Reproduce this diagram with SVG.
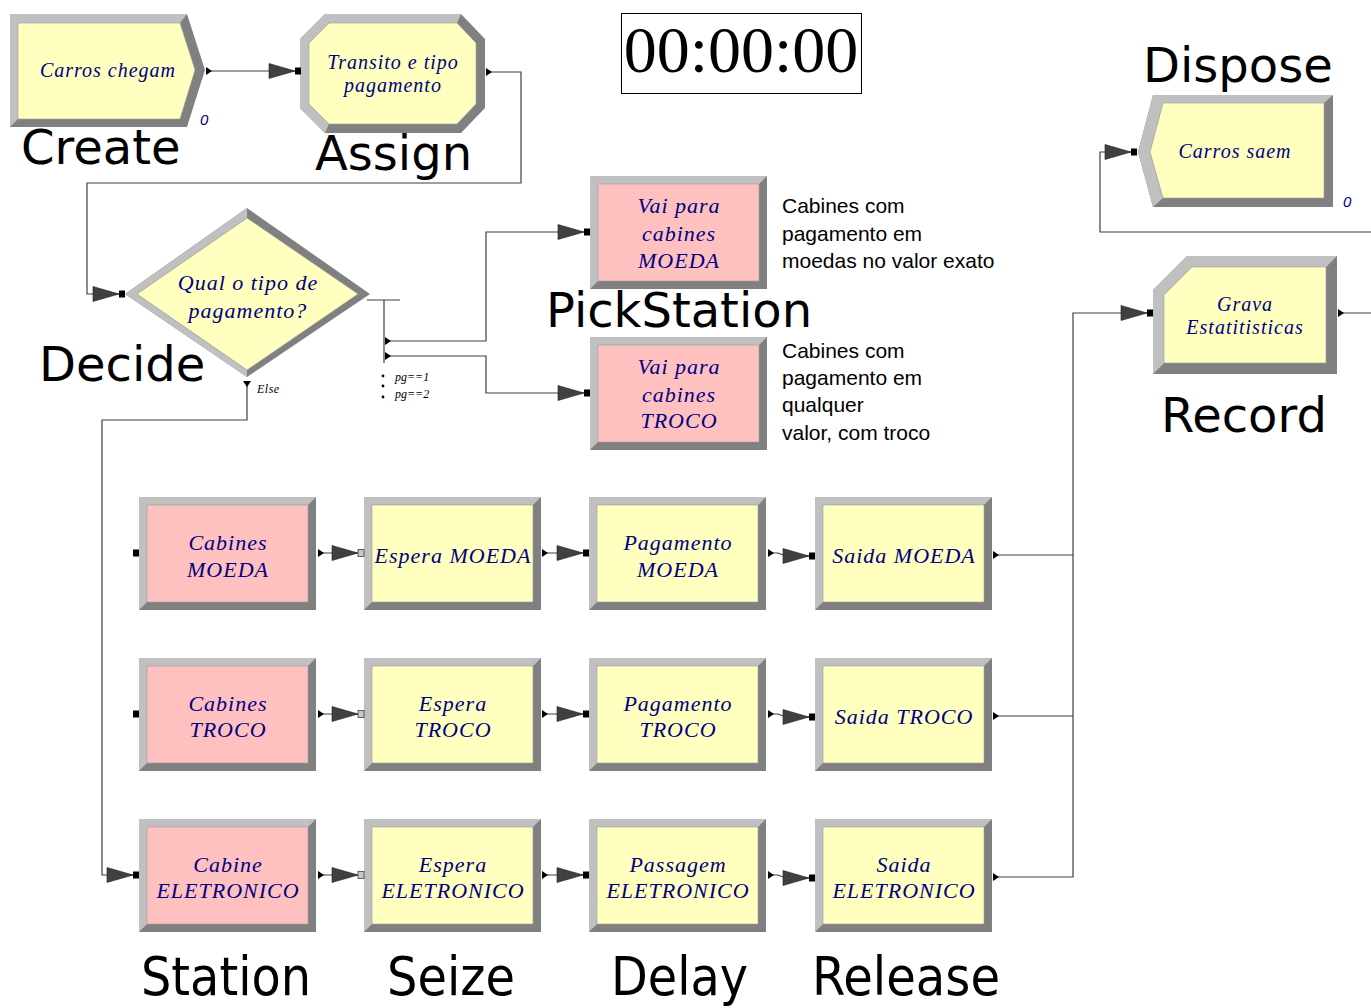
<svg xmlns="http://www.w3.org/2000/svg" xmlns:xlink="http://www.w3.org/1999/xlink" width="1371" height="1008" viewBox="0 0 1371 1008">
<style>
.dk{fill:#808080}
.lt{fill:#c0c0c0}
.yl{fill:#ffffc0;stroke:#9a9a9a;stroke-width:0.6}
.pk{fill:#ffc0c0;stroke:#9a9a9a;stroke-width:0.6}
.mt{font-family:"Liberation Serif",serif;font-style:italic;font-size:22px;fill:#000080;letter-spacing:1px;text-anchor:middle}
.ms{font-size:20px}
.big{font-family:"DejaVu Sans",sans-serif;font-size:48px;fill:#000}
.bot{font-family:"DejaVu Sans",sans-serif;font-size:53px;fill:#000}
.ann{font-family:"Liberation Sans",sans-serif;font-size:21px;fill:#000}
.cnt{font-family:"Liberation Sans",sans-serif;font-style:italic;font-size:15px;fill:#000080}
.sm{font-family:"Liberation Serif",serif;font-style:italic;font-size:12px;fill:#000}
.en{fill:#000}
.enl{fill:#c8c8c8;stroke:#404040;stroke-width:0.8}
.cn{fill:none;stroke:#404040;stroke-width:1.2}
.ca{marker-start:url(#ex);marker-end:url(#arr)}
.cs{marker-start:url(#ex)}
.ce{marker-end:url(#arr)}
</style>
<defs>
<marker id="arr" markerUnits="userSpaceOnUse" markerWidth="27" markerHeight="18" refX="26" refY="9" orient="auto" overflow="visible">
<path d="M0,1.5 L26,9 L0,16.5 Z" fill="#404040" stroke="#202020" stroke-width="0.6"/>
</marker>
<marker id="ex" markerUnits="userSpaceOnUse" markerWidth="8" markerHeight="8" refX="0" refY="4" orient="auto" overflow="visible">
<path d="M0,0 L6,4 L0,8 Z" fill="#000"/>
</marker>
<g id="frame">
<rect x="0" y="0" width="177" height="113" class="dk"/>
<polygon class="lt" points="0,0 177,0 169,8 8,8 8,105 0,113"/>
</g>
</defs>

<g id="connectors">
<path class="cn ca" d="M206,71 H295"/>
<path class="cn ca" d="M486,72 H521 V183 H87 V294 H119"/>
<path class="cn" d="M367,300 H400 M384,300 V363"/>
<path class="cn ca" d="M385,341 H486 V232 H584"/>
<path class="cn ca" d="M385,356 H486 V393 H584"/>
<path class="cn ca" d="M247,381 V420 H102 V875 H133"/>
<path class="cn ca" d="M318,553 H358"/>
<path class="cn ca" d="M542,553 H583"/>
<path class="cn ca" d="M768,553 H778 L786,556 H809"/>
<path class="cn ca" d="M318,714 H358"/>
<path class="cn ca" d="M542,714 H583"/>
<path class="cn ca" d="M768,714 H778 L786,717 H809"/>
<path class="cn ca" d="M318,875 H358"/>
<path class="cn ca" d="M542,875 H583"/>
<path class="cn ca" d="M768,875 H778 L786,878 H809"/>
<path class="cn cs" d="M993,555 H1073"/>
<path class="cn cs" d="M993,716 H1073"/>
<path class="cn ca" d="M993,877 H1073 V313 H1147"/>
<path class="cn ca" d="M1338,313 H1395 V232 H1100 V152 H1131"/>
</g>

<g id="create">
<polygon class="dk" points="10,14 187,14 205,70 187,127 10,127"/>
<polygon class="lt" points="10,127 10,14 187,14 180,23 18,23 18,119"/>
<polygon class="yl" points="18,23 180,23 195,70 180,119 18,119"/>
<text class="mt ms" x="108" y="77">Carros chegam</text>
<text class="cnt" x="200" y="125">0</text>
</g>

<g id="assign">
<polygon class="dk" points="300,39 325,14 461,14 485,39 485,108 461,133 325,133 300,108"/>
<polygon class="lt" points="325,133 300,108 300,39 325,14 461,14 457,23 329,23 309,43 309,104 329,124"/>
<polygon class="yl" points="309,43 329,23 457,23 476,43 476,104 457,124 329,124 309,104"/>
<rect class="en" x="295" y="67.5" width="6" height="7"/>
<text class="mt ms" x="393" y="69">Transito e tipo</text>
<text class="mt ms" x="393" y="92">pagamento</text>
</g>

<g id="decide">
<polygon class="dk" points="125,294 247,208 370,294 247,377"/>
<polygon class="lt" points="125,294 247,208 247,218 137,294 247,370 247,377"/>
<polygon class="yl" points="137,294 247,218 358,294 247,370"/>
<rect class="en" x="119" y="290.5" width="6" height="7"/>
<text class="mt" x="248" y="290">Qual o tipo de</text>
<text class="mt" x="248" y="318">pagamento?</text>
<text class="sm" x="257" y="393" letter-spacing="0.5">Else</text>
<circle cx="383" cy="376" r="1.4"/>
<circle cx="383" cy="386" r="1.4"/>
<circle cx="383" cy="397" r="1.4"/>
<text class="sm" x="395" y="381">pg==1</text>
<text class="sm" x="395" y="398">pg==2</text>
</g>

<g id="pick-moeda" transform="translate(590,176)">
<use xlink:href="#frame"/>
<rect class="pk" x="8" y="8" width="161" height="97"/>
<rect class="en" x="-6" y="52.5" width="6" height="7"/>
<text class="mt" x="89" y="37">Vai para</text>
<text class="mt" x="89" y="65">cabines</text>
<text class="mt" x="89" y="92">MOEDA</text>
</g>

<g id="pick-troco" transform="translate(590,337)">
<use xlink:href="#frame"/>
<rect class="pk" x="8" y="8" width="161" height="97"/>
<rect class="en" x="-6" y="52.5" width="6" height="7"/>
<text class="mt" x="89" y="37">Vai para</text>
<text class="mt" x="89" y="65">cabines</text>
<text class="mt" x="89" y="91">TROCO</text>
</g>

<g id="annotations">
<text class="ann" x="782"><tspan x="782" y="213">Cabines com</tspan><tspan x="782" y="241">pagamento em</tspan><tspan x="782" y="268">moedas no valor exato</tspan></text>
<text class="ann" x="782"><tspan x="782" y="358">Cabines com</tspan><tspan x="782" y="385">pagamento em</tspan><tspan x="782" y="412">qualquer</tspan><tspan x="782" y="440">valor, com troco</tspan></text>
</g>

<g id="dispose">
<polygon class="dk" points="1138,152 1153,95 1333,95 1333,207 1153,207"/>
<polygon class="lt" points="1153,207 1138,152 1153,95 1333,95 1324,103 1163,103 1150,152 1163,198"/>
<polygon class="yl" points="1150,152 1163,103 1324,103 1324,198 1163,198"/>
<rect class="en" x="1131" y="148.5" width="6" height="7"/>
<text class="mt ms" x="1235" y="158">Carros saem</text>
<text class="cnt" x="1343" y="207">0</text>
</g>

<g id="record">
<polygon class="dk" points="1153,290 1187,256 1337,256 1337,374 1153,374"/>
<polygon class="lt" points="1153,374 1153,290 1187,256 1337,256 1326,267 1192,267 1164,295 1164,363"/>
<polygon class="yl" points="1164,295 1192,267 1326,267 1326,363 1164,363"/>
<rect class="en" x="1147" y="309.5" width="6" height="7"/>
<text class="mt ms" x="1245" y="311">Grava</text>
<text class="mt ms" x="1245" y="334">Estatitisticas</text>
</g>

<g id="station-moeda" transform="translate(139,497)">
<use xlink:href="#frame"/>
<rect class="pk" x="8" y="8" width="161" height="97"/>
<rect class="en" x="-6" y="52.5" width="6" height="7"/>
<text class="mt" x="89" y="53">Cabines</text>
<text class="mt" x="89" y="80">MOEDA</text>
</g>
<g id="seize-moeda" transform="translate(364,497)">
<use xlink:href="#frame"/>
<rect class="yl" x="8" y="8" width="161" height="97"/>
<rect class="enl" x="-6" y="52.5" width="6" height="7"/>
<text class="mt" x="89" y="66">Espera MOEDA</text>
</g>
<g id="delay-moeda" transform="translate(589,497)">
<use xlink:href="#frame"/>
<rect class="yl" x="8" y="8" width="161" height="97"/>
<rect class="en" x="-6" y="52.5" width="6" height="7"/>
<text class="mt" x="89" y="53">Pagamento</text>
<text class="mt" x="89" y="80">MOEDA</text>
</g>
<g id="release-moeda" transform="translate(815,497)">
<use xlink:href="#frame"/>
<rect class="yl" x="8" y="8" width="161" height="97"/>
<rect class="en" x="-6" y="55.5" width="6" height="7"/>
<text class="mt" x="89" y="66">Saida MOEDA</text>
</g>

<g id="station-troco" transform="translate(139,658)">
<use xlink:href="#frame"/>
<rect class="pk" x="8" y="8" width="161" height="97"/>
<rect class="en" x="-6" y="52.5" width="6" height="7"/>
<text class="mt" x="89" y="53">Cabines</text>
<text class="mt" x="89" y="79">TROCO</text>
</g>
<g id="seize-troco" transform="translate(364,658)">
<use xlink:href="#frame"/>
<rect class="yl" x="8" y="8" width="161" height="97"/>
<rect class="enl" x="-6" y="52.5" width="6" height="7"/>
<text class="mt" x="89" y="53">Espera</text>
<text class="mt" x="89" y="79">TROCO</text>
</g>
<g id="delay-troco" transform="translate(589,658)">
<use xlink:href="#frame"/>
<rect class="yl" x="8" y="8" width="161" height="97"/>
<rect class="en" x="-6" y="52.5" width="6" height="7"/>
<text class="mt" x="89" y="53">Pagamento</text>
<text class="mt" x="89" y="79">TROCO</text>
</g>
<g id="release-troco" transform="translate(815,658)">
<use xlink:href="#frame"/>
<rect class="yl" x="8" y="8" width="161" height="97"/>
<rect class="en" x="-6" y="55.5" width="6" height="7"/>
<text class="mt" x="89" y="66">Saida TROCO</text>
</g>

<g id="station-eletronico" transform="translate(139,819)">
<use xlink:href="#frame"/>
<rect class="pk" x="8" y="8" width="161" height="97"/>
<rect class="en" x="-6" y="52.5" width="6" height="7"/>
<text class="mt" x="89" y="53">Cabine</text>
<text class="mt" x="89" y="79">ELETRONICO</text>
</g>
<g id="seize-eletronico" transform="translate(364,819)">
<use xlink:href="#frame"/>
<rect class="yl" x="8" y="8" width="161" height="97"/>
<rect class="enl" x="-6" y="52.5" width="6" height="7"/>
<text class="mt" x="89" y="53">Espera</text>
<text class="mt" x="89" y="79">ELETRONICO</text>
</g>
<g id="delay-eletronico" transform="translate(589,819)">
<use xlink:href="#frame"/>
<rect class="yl" x="8" y="8" width="161" height="97"/>
<rect class="en" x="-6" y="52.5" width="6" height="7"/>
<text class="mt" x="89" y="53">Passagem</text>
<text class="mt" x="89" y="79">ELETRONICO</text>
</g>
<g id="release-eletronico" transform="translate(815,819)">
<use xlink:href="#frame"/>
<rect class="yl" x="8" y="8" width="161" height="97"/>
<rect class="en" x="-6" y="55.5" width="6" height="7"/>
<text class="mt" x="89" y="53">Saida</text>
<text class="mt" x="89" y="79">ELETRONICO</text>
</g>

<g id="clock">
<rect x="621.5" y="13.5" width="240" height="80" fill="#fff" stroke="#000" stroke-width="1"/>
<text x="741" y="72" font-family="Liberation Serif, serif" font-size="66" text-anchor="middle" fill="#000">00:00:00</text>
</g>

<g id="labels">
<text class="big" x="21" y="164" font-size="47">Create</text>
<text class="big" x="315" y="170">Assign</text>
<text class="big" x="1143" y="82">Dispose</text>
<text class="big" x="546" y="327">PickStation</text>
<text class="big" x="39" y="381">Decide</text>
<text class="big" x="1161" y="432" font-size="47">Record</text>
<text class="bot" x="141" y="995" textLength="170" lengthAdjust="spacingAndGlyphs">Station</text>
<text class="bot" x="387" y="995" textLength="128" lengthAdjust="spacingAndGlyphs">Seize</text>
<text class="bot" x="611" y="995" textLength="137" lengthAdjust="spacingAndGlyphs">Delay</text>
<text class="bot" x="812" y="995" textLength="188" lengthAdjust="spacingAndGlyphs">Release</text>
</g>
</svg>
